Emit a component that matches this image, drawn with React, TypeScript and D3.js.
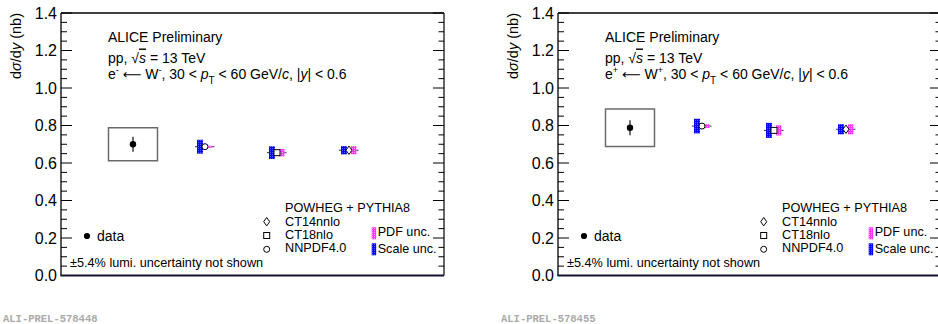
import React from "react";
import * as d3 from "d3";

// y axis
const yTicks = [0, 0.2, 0.4, 0.6, 0.8, 1.0, 1.2, 1.4];
const yTickLabels = ["0.0", "0.2", "0.4", "0.6", "0.8", "1.0", "1.2", "1.4"];

// theory curves, in plot order (NNPDF4.0, CT18nlo, CT14nnlo)
const modelShapes = ["circle", "square", "diamond"];
const legendModels = ["CT14nnlo", "CT18nlo", "NNPDF4.0"];
const legendShapes = ["diamond", "square", "circle"];

// e- <- W-
const minusData = [0.70];
const minusStat = [0.040];
const minusSyst = [0.088];
const minusModel = [0.687, 0.655, 0.668];
const minusScale = [0.037, 0.034, 0.022];
const minusPdf = [0.005, 0.020, 0.022];

// e+ <- W+
const plusData = [0.788];
const plusStat = [0.040];
const plusSyst = [0.100];
const plusModel = [0.797, 0.774, 0.780];
const plusScale = [0.039, 0.040, 0.027];
const plusPdf = [0.010, 0.027, 0.027];

const FONT = "'Liberation Sans', Arial, Helvetica, sans-serif";

const left = 61, right = 444, top = 13, bottom = 275.5;
const y = d3.scaleLinear().domain([0, 1.4]).range([bottom, top]);
const x = d3.scaleLinear().domain([0, 5.32]).range([left, right]);
const minorTicks = d3.range(0, 1.4001, 0.05).filter(v => Math.abs(v / 0.2 - Math.round(v / 0.2)) > 0.01);

function Marker({ shape, cx, cy }: { shape: string; cx: number; cy: number }) {
  if (shape === "circle") return <circle cx={cx} cy={cy} r={3} fill="white" stroke="black" strokeWidth={1} />;
  if (shape === "square") return <rect x={cx - 3} y={cy - 3} width={6} height={6} fill="white" stroke="black" strokeWidth={1} />;
  return <path d={`M${cx},${cy - 4.2}L${cx + 3},${cy}L${cx},${cy + 4.2}L${cx - 3},${cy}Z`} fill="white" stroke="black" strokeWidth={1} />;
}

function Panel(props: {
  dx: number; sign: string; id: string;
  data: number[]; stat: number[]; syst: number[];
  model: number[]; scale: number[]; pdf: number[];
}) {
  const { dx, sign, id, data, stat, syst, model, scale, pdf } = props;
  const xd = x(1);
  return (
    <g transform={`translate(${dx},0)`} fontFamily={FONT}>
      {/* frame */}
      <line x1={left} x2={right} y1={top} y2={top} stroke="black" strokeWidth={1.5} />
      <line x1={right} x2={right} y1={top} y2={bottom} stroke="black" strokeWidth={1.2} />
      <line x1={left} x2={left} y1={top} y2={bottom} stroke="black" strokeWidth={1.3} />
      {yTicks.map((t, i) => (
        <g key={"t" + i}>
          <line x1={left} x2={left + 11} y1={y(t)} y2={y(t)} stroke="black" strokeWidth={1} />
          <line x1={right} x2={right - 11} y1={y(t)} y2={y(t)} stroke="black" strokeWidth={1} />
          <text x={left - 4} y={y(t) + 5.6} fontSize={16} textAnchor="end">{yTickLabels[i]}</text>
        </g>
      ))}
      {minorTicks.map((t, i) => (
        <g key={"m" + i}>
          <line x1={left} x2={left + 6} y1={y(t)} y2={y(t)} stroke="black" strokeWidth={1} />
          <line x1={right} x2={right - 5.5} y1={y(t)} y2={y(t)} stroke="black" strokeWidth={1} />
        </g>
      ))}
      <line x1={left - 0.6} x2={right} y1={bottom} y2={bottom} stroke="#141432" strokeWidth={2} />

      {/* axis title */}
      <text transform={`translate(21,${top}) rotate(-90)`} textAnchor="end" fontSize={14.5}>
        d<tspan fontStyle="italic">σ</tspan>/d<tspan fontStyle="italic">y</tspan> (nb)
      </text>

      {/* header */}
      <text x={108} y={42} fontSize={14}>ALICE Preliminary</text>
      <text x={108} y={62.5} fontSize={14}>pp, √<tspan fontStyle="italic" textDecoration="overline">s</tspan> = 13 TeV</text>
      <text x={108} y={78.5} fontSize={14}>
        e<tspan fontSize={9} dy={-6}>{sign}</tspan>
        <tspan dy={6}> </tspan><tspan fontFamily="'DejaVu Sans'" fontSize={13}>⟵</tspan><tspan> W</tspan><tspan fontSize={9} dy={-6}>{sign}</tspan>
        <tspan dy={6}>, 30 &lt; </tspan><tspan fontStyle="italic">p</tspan>
        <tspan fontSize={10} dy={5}>T</tspan>
        <tspan dy={-5}> &lt; 60 GeV/</tspan><tspan fontStyle="italic">c</tspan>, |<tspan fontStyle="italic">y</tspan>| &lt; 0.6
      </text>

      {/* data */}
      {data.map((v, i) => (
        <g key={"d" + i}>
          <rect x={xd - 24.5} width={49} y={y(v + syst[i])} height={y(v - syst[i]) - y(v + syst[i])}
            fill="none" stroke="#6a6a6a" strokeWidth={1.5} />
          <line x1={xd} x2={xd} y1={y(v + stat[i])} y2={y(v - stat[i])} stroke="#222" strokeWidth={1.3} />
          <circle cx={xd} cy={y(v)} r={3.2} fill="black" />
        </g>
      ))}

      {/* models */}
      {model.map((v, i) => {
        const cx = x(i + 2);
        return (
          <g key={"md" + i}>
            <line x1={cx - 10} x2={cx + 9.5} y1={y(v)} y2={y(v)} stroke="#333" strokeWidth={1} />
            <rect x={cx - 8} width={6} y={y(v + scale[i])} height={y(v - scale[i]) - y(v + scale[i])} fill={`url(#blue${id})`} />
            <rect x={cx + 2} width={5.5} y={y(v + pdf[i])} height={Math.max(1.5, y(v - pdf[i]) - y(v + pdf[i]))} fill={`url(#mag${id})`} />
            <Marker shape={modelShapes[i]} cx={cx} cy={y(v)} />
          </g>
        );
      })}

      {/* legends */}
      <circle cx={87} cy={236} r={3.1} fill="black" />
      <text x={97} y={241} fontSize={14}>data</text>
      <text x={70} y={266.5} fontSize={12.7}>±5.4% lumi. uncertainty not shown</text>

      <text x={285} y={212} fontSize={12.7}>POWHEG + PYTHIA8</text>
      {legendModels.map((m, i) => (
        <g key={"l" + i}>
          <Marker shape={legendShapes[i]} cx={266.7} cy={221.7 + i * 13.8} />
          <text x={285} y={225.5 + i * 13.4} fontSize={12.7}>{m}</text>
        </g>
      ))}
      <rect x={371.7} y={227.3} width={4.5} height={12} fill={`url(#mag${id})`} />
      <text x={377.7} y={236} fontSize={12.6}>PDF unc.</text>
      <rect x={371.7} y={243.3} width={4.5} height={12} fill={`url(#blue${id})`} />
      <text x={377.7} y={252.7} fontSize={12.6}>Scale unc.</text>
    </g>
  );
}

export default function App() {
  return (
    <svg width={938} height={324} style={{ position: "absolute", left: 0, top: 0, background: "white" }}>
      <defs>
        {["L", "R"].map(id => (
          <React.Fragment key={id}>
            <pattern id={"blue" + id} width={2} height={2} patternUnits="userSpaceOnUse">
              <rect width={2} height={2} fill="#0000ff" />
              <rect x={0} y={0} width={1} height={1} fill="#5555ff" />
            </pattern>
            <pattern id={"mag" + id} width={2} height={2} patternUnits="userSpaceOnUse">
              <rect width={2} height={2} fill="#ff33ff" />
              <rect x={0} y={0} width={1} height={1} fill="#ff99ff" />
            </pattern>
          </React.Fragment>
        ))}
      </defs>
      <rect width={938} height={324} fill="white" />
      <Panel dx={0} sign="-" id="L" data={minusData} stat={minusStat} syst={minusSyst}
        model={minusModel} scale={minusScale} pdf={minusPdf} />
      <Panel dx={497} sign="+" id="R" data={plusData} stat={plusStat} syst={plusSyst}
        model={plusModel} scale={plusScale} pdf={plusPdf} />
      <text x={3} y={322} fontSize={10.5} fontWeight="bold" fill="#aaaaaa" fontFamily="'Liberation Mono', 'Courier New', monospace">ALI-PREL-578448</text>
      <text x={501} y={322} fontSize={10.5} fontWeight="bold" fill="#aaaaaa" fontFamily="'Liberation Mono', 'Courier New', monospace">ALI-PREL-578455</text>
    </svg>
  );
}
